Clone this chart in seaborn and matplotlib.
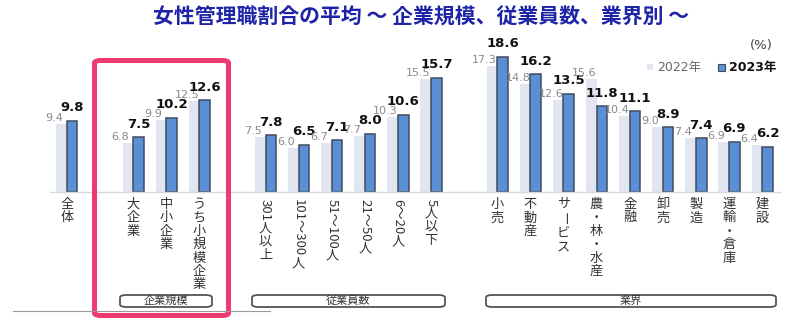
import matplotlib
matplotlib.use("Agg")
import matplotlib.pyplot as plt
import matplotlib.transforms as mtrans
from matplotlib.patches import FancyBboxPatch, Rectangle
import seaborn as sns
import pandas as pd
import numpy as np

# ---------------- data ----------------
categories = ["全体", "大企業", "中小企業", "うち小規模企業",
              "301人以上", "101～300人", "51～100人", "21～50人", "6～20人", "5人以下",
              "小売", "不動産", "サービス", "農・林・水産", "金融", "卸売", "製造", "運輸・倉庫", "建設"]
values_2022 = [9.4, 6.8, 9.9, 12.5, 7.5, 6.0, 6.7, 7.7, 10.3, 15.5,
               17.3, 14.8, 12.6, 15.6, 10.4, 9.0, 7.4, 6.9, 6.4]
values_2023 = [9.8, 7.5, 10.2, 12.6, 7.8, 6.5, 7.1, 8.0, 10.6, 15.7,
               18.6, 16.2, 13.5, 11.8, 11.1, 8.9, 7.4, 6.9, 6.2]
years = ["2022年", "2023年"]
group_names = ["企業規模", "従業員数", "業界"]
title = "女性管理職割合の平均 ～ 企業規模、従業員数、業界別 ～"

# slot order with blank spacer slots between groups
order = ["全体", " ", "大企業", "中小企業", "うち小規模企業", "  ",
         "301人以上", "101～300人", "51～100人", "21～50人", "6～20人", "5人以下", "   ",
         "小売", "不動産", "サービス", "農・林・水産", "金融", "卸売", "製造", "運輸・倉庫", "建設"]

df = pd.DataFrame({
    "cat": categories * 2,
    "year": [years[0]] * len(categories) + [years[1]] * len(categories),
    "value": values_2022 + values_2023,
})

# ---------------- figure ----------------
W, H = 800, 320
fig = plt.figure(figsize=(8, 3.2), dpi=100)
fig.patch.set_facecolor("white")
CJK = ["Noto Sans CJK JP", "DejaVu Sans"]
NUM = ["DejaVu Sans", "Noto Sans CJK JP"]

def fx(px):
    return px / W

def fy(py):
    return 1 - py / H

ax = fig.add_axes([fx(50), fy(192), fx(780) - fx(50), fy(40) - fy(192)])
ax.set_facecolor("none")

c22 = "#e2e6f1"
c23 = "#5b8fd5"
sns.barplot(data=df, x="cat", y="value", hue="year", order=order, hue_order=years,
            palette=[c22, c23], width=0.64, gap=0, ax=ax, legend=False, errorbar=None,
            saturation=1)

for cont, yr in zip(ax.containers, years):
    for p in cont:
        if yr == years[1]:
            p.set_edgecolor("#3f4c5e")
            p.set_linewidth(1.1)
        else:
            p.set_edgecolor("none")

ax.set_xlim(-0.51, 21.54)
ax.set_ylim(0, 20.9)
for s in ["top", "left", "right"]:
    ax.spines[s].set_visible(False)
ax.spines["bottom"].set_color("#d5dae2")
ax.spines["bottom"].set_linewidth(1.0)
ax.set_xticks([])
ax.set_yticks([])
ax.set_xlabel("")
ax.set_ylabel("")

# value labels
pos = {c: order.index(c) for c in categories}
off = lambda dy: mtrans.offset_copy(ax.transData, fig=fig, x=0, y=dy, units="dots")
for c, v22, v23 in zip(categories, values_2022, values_2023):
    x = pos[c]
    ax.text(x - 0.38, v22, f"{v22:.1f}", transform=off(6), ha="center", va="center",
            fontsize=8, color="#8a8a8a", family=NUM, zorder=5)
    ax.text(x + 0.16, v23, f"{v23:.1f}", transform=off(13), ha="center", va="center",
            fontsize=9.5, color="#111111", fontweight="bold", family=NUM, zorder=5)

# vertical category labels
blend = mtrans.blended_transform_factory(ax.transData, fig.transFigure)
renderer = fig.canvas.get_renderer()

def pieces(s):
    out = []
    buf = ""
    for ch in s:
        if ch.isascii() or ch in "～ー":
            buf += ch
        else:
            if buf:
                out.append(("r", buf))
                buf = ""
            out.append(("u", ch))
    if buf:
        out.append(("r", buf))
    return out

for c in categories:
    x = pos[c]
    y = 198.0
    for kind, txt in pieces(c):
        if kind == "u":
            fig.text(x, fy(y), txt, transform=blend, ha="center", va="top",
                     fontsize=9.5, color="#333333", family=CJK)
            y += 13.4
        else:
            t = fig.text(x, fy(y + 1), txt, transform=blend, ha="center", va="top",
                         rotation=-90, fontsize=9.5, color="#333333", family=CJK)
            ext = t.get_window_extent(renderer)
            y += ext.height + 2

# group boxes
boxes = [(120, 212), (252, 445), (486, 776)]
for (x0, x1), name in zip(boxes, group_names):
    fig.patches.append(FancyBboxPatch((fx(x0), fy(307)), fx(x1) - fx(x0), fy(295) - fy(307),
                                      boxstyle="round,pad=0,rounding_size=0.008",
                                      transform=fig.transFigure, facecolor="white",
                                      edgecolor="#555555", linewidth=1.3))
    fig.text(fx((x0 + x1) / 2), fy(301), name, ha="center", va="center",
             fontsize=8, color="#333333", family=CJK)

# thin separator line at bottom left
fig.add_artist(plt.Line2D([fx(13), fx(270)], [fy(311), fy(311)], color="#9a9a9a",
                          linewidth=0.8, transform=fig.transFigure))

# pink highlight frame
fig.patches.append(FancyBboxPatch((fx(94.5), fy(315.5)), fx(228.5) - fx(94.5), fy(60.5) - fy(315.5),
                                  boxstyle="round,pad=0,rounding_size=0.008",
                                  transform=fig.transFigure, facecolor="none",
                                  edgecolor="#ee3a6e", linewidth=3.6))

# title
fig.text(fx(421), fy(17), title, ha="center", va="center", fontsize=15,
         fontweight="bold", color="#1e24a8", family=CJK)

# unit and legend
fig.text(fx(773), fy(46), "(%)", ha="right", va="center", fontsize=9.5,
         color="#444444", family=NUM)
fig.patches.append(Rectangle((fx(647), fy(70)), fx(6) - fx(0), fy(0) - fy(6),
                             transform=fig.transFigure, facecolor=c22, edgecolor="none"))
fig.text(fx(657), fy(67), years[0], ha="left", va="center", fontsize=9,
         color="#666666", family=NUM)
fig.patches.append(Rectangle((fx(718), fy(71)), fx(7) - fx(0), fy(0) - fy(7),
                             transform=fig.transFigure, facecolor=c23, edgecolor="#3f4c5e",
                             linewidth=0.8))
fig.text(fx(729), fy(67), years[1], ha="left", va="center", fontsize=9,
         color="#111111", fontweight="bold", family=NUM)

fig.savefig("out.png", dpi=100)
